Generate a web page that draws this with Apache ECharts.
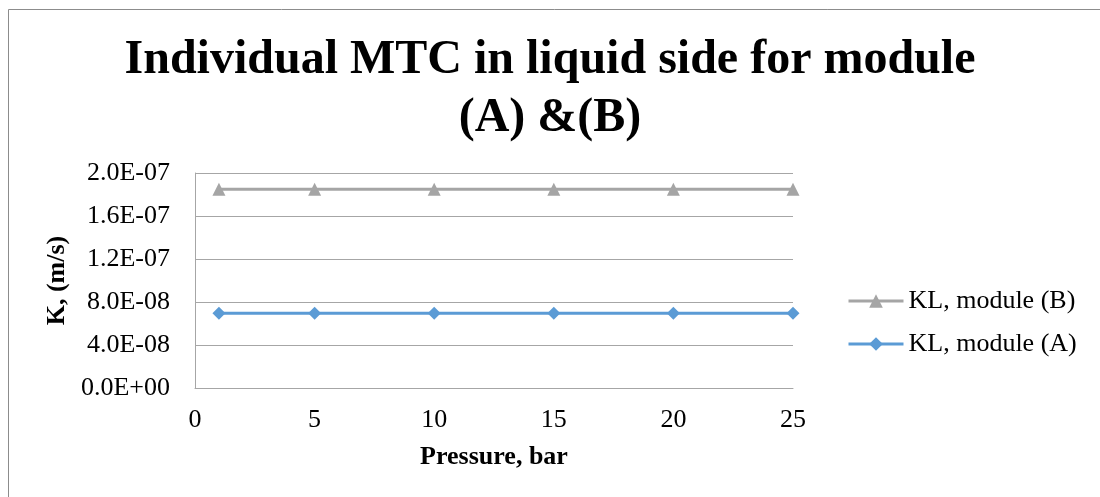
<!DOCTYPE html>
<html>
<head>
<meta charset="utf-8">
<script src="https://cdn.jsdelivr.net/npm/echarts@6/dist/echarts.min.js"></script>
<style>
  html, body { margin: 0; padding: 0; background: #fff; }
  #chart { width: 1100px; height: 497px; }
</style>
</head>
<body>
<div id="chart"></div>
<script>
// Pressure points (bar)
const pressure = [1, 5, 10, 15, 20, 25];
// Liquid-side mass transfer coefficient, m/s
const klModuleB = [1.85e-7, 1.85e-7, 1.85e-7, 1.85e-7, 1.85e-7, 1.85e-7];
const klModuleA = [6.95e-8, 6.95e-8, 6.95e-8, 6.95e-8, 6.95e-8, 6.95e-8];
const seriesNames = ['KL, module (B)', 'KL, module (A)'];

const serif = '"Liberation Serif", "Times New Roman", serif';

// 2.0E-07 style labels
function sci(v) {
  if (v === 0) return '0.0E+00';
  const [m, e] = v.toExponential(1).split('e');
  const n = parseInt(e, 10);
  const sign = n < 0 ? '-' : '+';
  return m + 'E' + sign + String(Math.abs(n)).padStart(2, '0');
}

const chart = echarts.init(document.getElementById('chart'));
chart.setOption({
  animation: false,
  backgroundColor: '#fff',
  graphic: [{
    type: 'rect',
    shape: { x: 8.5, y: 9.5, width: 1200, height: 600 },
    style: { fill: 'none', stroke: '#8c8c8c', lineWidth: 1 },
    silent: true
  }],
  title: {
    text: 'Individual MTC in liquid side for module\n(A) &(B)',
    left: 'center',
    top: 27,
    textStyle: {
      fontFamily: serif,
      fontWeight: 'bold',
      fontSize: 48,
      lineHeight: 58,
      color: '#000'
    }
  },
  grid: { left: 195, right: 307, top: 173, bottom: 109, containLabel: false },
  legend: {
    orient: 'vertical',
    left: 842,
    top: 283,
    itemWidth: 55,
    itemHeight: 17,
    itemGap: 17,
    lineStyle: { width: 3 },
    textStyle: { fontFamily: serif, fontSize: 26, color: '#000' },
    data: seriesNames
  },
  xAxis: {
    type: 'value',
    min: 0,
    max: 25,
    interval: 5,
    name: 'Pressure, bar',
    nameLocation: 'middle',
    nameGap: 56,
    nameTextStyle: { fontFamily: serif, fontWeight: 'bold', fontSize: 26, color: '#000' },
    axisLine: { show: true, lineStyle: { color: '#a6a6a6', width: 1 } },
    axisTick: { show: false },
    splitLine: { show: false },
    axisLabel: { fontFamily: serif, fontSize: 26, color: '#000', margin: 19 }
  },
  yAxis: {
    type: 'value',
    min: 0,
    max: 2e-7,
    interval: 4e-8,
    name: 'K, (m/s)',
    nameLocation: 'middle',
    nameRotate: 90,
    nameGap: 106,
    nameTextStyle: { fontFamily: serif, fontWeight: 'bold', fontSize: 26, color: '#000' },
    axisLine: { show: true, lineStyle: { color: '#a6a6a6', width: 1 } },
    axisTick: { show: false },
    splitLine: { show: true, lineStyle: { color: '#a6a6a6', width: 1 } },
    axisLabel: { fontFamily: serif, fontSize: 26, color: '#000', margin: 25, formatter: sci }
  },
  series: [
    {
      name: seriesNames[0],
      type: 'line',
      data: pressure.map((p, i) => [p, klModuleB[i]]),
      symbol: 'triangle',
      symbolSize: 13,
      lineStyle: { color: '#a5a5a5', width: 3 },
      itemStyle: { color: '#a5a5a5' }
    },
    {
      name: seriesNames[1],
      type: 'line',
      data: pressure.map((p, i) => [p, klModuleA[i]]),
      symbol: 'diamond',
      symbolSize: 13,
      lineStyle: { color: '#5b9bd5', width: 3 },
      itemStyle: { color: '#5b9bd5' }
    }
  ]
});
</script>
</body>
</html>
